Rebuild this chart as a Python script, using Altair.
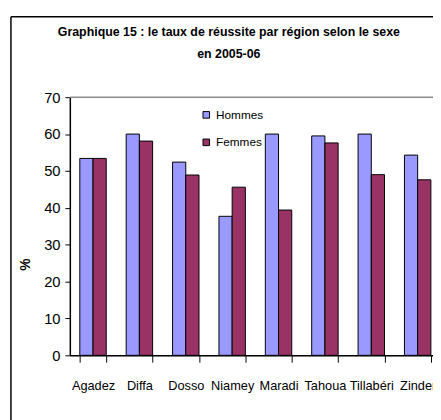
import altair as alt
import pandas as pd

regions = ["Agadez", "Diffa", "Dosso", "Niamey", "Maradi", "Tahoua", "Tillabéri", "Zinder"]
hommes = [53.4, 60.0, 52.4, 37.7, 60.0, 59.5, 60.0, 54.3]
femmes = [53.4, 58.1, 48.9, 45.6, 39.4, 57.6, 49.0, 47.6]
series = ["Hommes", "Femmes"]
colors = ["#9999FF", "#993366"]
title_lines = ["Graphique 15 : le taux de réussite par région selon le sexe", "en 2005-06"]
y_title = "%"
y_ticks = [0, 10, 20, 30, 40, 50, 60, 70]

rows = []
for i, r in enumerate(regions):
    rows.append({"Région": r, "Sexe": "Hommes", "Taux": hommes[i]})
    rows.append({"Région": r, "Sexe": "Femmes", "Taux": femmes[i]})
df = pd.DataFrame(rows)
one = pd.DataFrame({"k": [0]})

FONT = "Liberation Sans, Arial, sans-serif"
W = 370
H = 263
XR = 378

bars = alt.Chart(df).mark_bar(stroke="black", strokeWidth=1).encode(
    x=alt.X("Région:N", sort=regions,
            scale=alt.Scale(range=[0, XR], paddingInner=0.43, paddingOuter=0.215),
            axis=alt.Axis(title=None, tickBand="extent", domainColor="black",
                          tickColor="black", tickSize=7, labelAngle=0,
                          labelFont=FONT, labelFontSize=13, labelColor="black",
                          labelPadding=18, labelBaseline="top", domainWidth=1.5,
                          labelOverlap=False)),
    xOffset=alt.XOffset("Sexe:N", sort=series, scale=alt.Scale(paddingInner=0, paddingOuter=0)),
    y=alt.Y("Taux:Q", scale=alt.Scale(domain=[0, 70], nice=False),
            axis=alt.Axis(title=y_title, values=y_ticks, grid=False,
                          domainColor="black", tickColor="black", tickSize=5,
                          labelFont=FONT, labelFontSize=15, labelColor="black",
                          labelPadding=5, labelOverlap=False,
                          titleFont=FONT, titleFontSize=14,
                          titleFontWeight="bold", titleColor="black",
                          titleX=-38, titleY=170, domainWidth=1.5)),
    color=alt.Color("Sexe:N", sort=series,
                    scale=alt.Scale(domain=series, range=colors),
                    legend=alt.Legend(title=None, orient="none", legendX=133, legendY=12,
                                      symbolType="square", symbolSize=45,
                                      symbolStrokeColor="black", symbolStrokeWidth=1,
                                      labelFont=FONT, labelFontSize=12, labelColor="black",
                                      rowPadding=16, labelOffset=4)),
)

top_line = alt.Chart(one).mark_rule(color="#8c8c8c", strokeWidth=1.5).encode(
    y=alt.value(0), x=alt.value(0), x2=alt.value(XR)
)

frame_v = alt.Chart(one).mark_rule(color="black", strokeWidth=1.5).encode(
    x=alt.value(-60), y=alt.value(-82), y2=alt.value(340)
)
frame_h = alt.Chart(one).mark_rule(color="black", strokeWidth=1.5).encode(
    y=alt.value(-82), x=alt.value(-60), x2=alt.value(420)
)

t1 = alt.Chart(one).mark_text(text=title_lines[0], font=FONT, fontSize=12.6,
                              fontWeight="bold", color="black").encode(
    x=alt.value(162), y=alt.value(-66)
)
t2 = alt.Chart(one).mark_text(text=title_lines[1], font=FONT, fontSize=12.6,
                              fontWeight="bold", color="black").encode(
    x=alt.value(162), y=alt.value(-44)
)

chart = alt.layer(bars, top_line, frame_v, frame_h, t1, t2).properties(
    width=W, height=H,
    autosize=alt.AutoSizeParams(type="none"),
    padding={"left": 63, "top": 87, "right": 0, "bottom": 62},
).configure_view(stroke=None).configure(background="white")

chart.save("out.html", embed_options={"renderer": "svg", "actions": False})
